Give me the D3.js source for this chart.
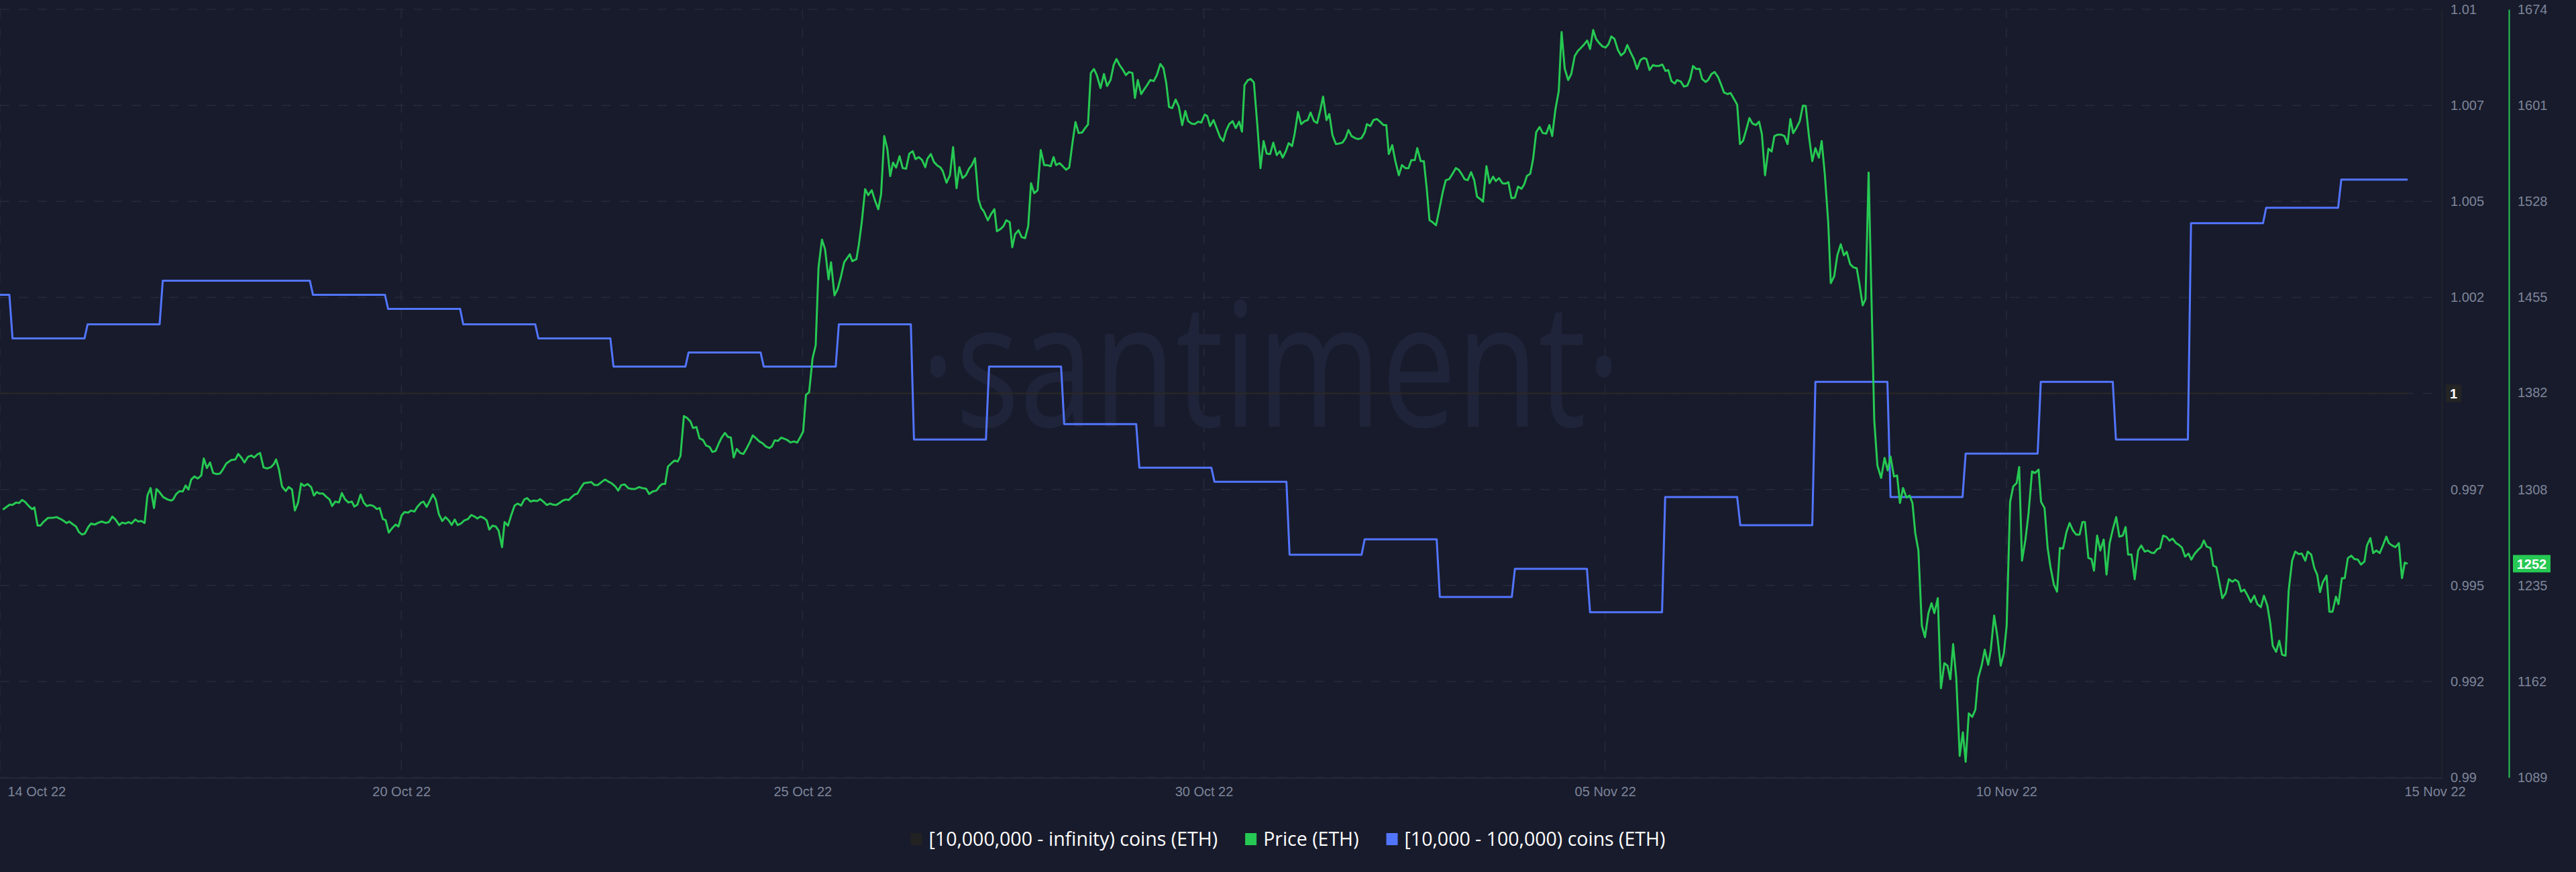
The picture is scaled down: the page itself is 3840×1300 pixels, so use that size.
<!DOCTYPE html>
<html><head><meta charset="utf-8">
<script src="https://cdn.jsdelivr.net/npm/d3@7"></script>
<style>html,body{margin:0;padding:0;background:#181b2b;}svg{display:block}</style>
</head><body><svg id="chart" width="3840" height="1300"></svg>
<script>
// ---------- DATA ----------
const seriesStart = "2022-10-14T21:00:00Z";
// Price (ETH) readings: [hours since seriesStart, USD]
const priceReadings = [
[0.9,1293.0],[3.1,1296.8],[3.9,1296.5],[5.2,1298.4],[6.1,1298.0],[7.0,1300.3],[7.9,1299.1],[9.2,1295.7],[10.2,1293.4],[11.0,1294.6],
[12.0,1280.8],[12.9,1280.8],[14.0,1283.9],[15.3,1286.6],[17.1,1286.9],[18.1,1287.3],[19.7,1285.4],[21.3,1282.8],[22.1,1283.9],[23.6,1281.2],
[24.3,1280.1],[25.2,1275.9],[26.2,1274.0],[27.1,1274.7],[28.2,1279.7],[29.1,1282.4],[30.2,1281.6],[31.5,1283.1],[32.5,1283.9],[33.8,1282.8],
[34.8,1283.5],[35.9,1287.7],[36.9,1285.4],[38.1,1281.2],[39.0,1283.1],[40.1,1282.4],[41.1,1283.5],[42.0,1282.4],[43.2,1285.4],[44.2,1283.9],
[45.2,1284.3],[46.2,1282.8],[47.1,1303.7],[48.1,1309.4],[49.2,1294.2],[50.0,1308.7],[50.9,1306.4],[52.1,1302.6],[53.5,1300.7],[54.7,1299.9],
[55.3,1300.7],[56.3,1304.9],[57.4,1307.1],[58.4,1306.8],[59.3,1311.3],[60.2,1308.3],[61.1,1315.9],[62.1,1318.2],[63.2,1316.7],[64.3,1319.0],
[65.1,1331.9],[66.1,1324.7],[67.1,1328.9],[68.1,1320.9],[69.1,1320.1],[70.3,1320.5],[71.0,1322.8],[72.3,1328.1],[73.9,1330.8],[75.2,1331.2],
[76.1,1335.4],[77.2,1332.3],[78.1,1328.9],[79.2,1333.1],[80.3,1334.2],[81.2,1332.7],[82.2,1335.0],[83.1,1336.1],[84.2,1325.1],[85.4,1324.3],
[86.6,1325.4],[87.5,1327.7],[88.2,1331.2],[89.1,1323.9],[90.1,1310.6],[91.3,1307.1],[92.2,1310.2],[93.3,1308.3],[94.2,1292.3],[95.2,1298.0],
[96.2,1312.9],[97.1,1311.0],[98.3,1312.5],[99.4,1310.2],[100.3,1303.7],[101.2,1306.4],[102.1,1305.2],[103.2,1305.2],[104.3,1302.6],[105.3,1300.7],
[106.1,1295.7],[107.1,1299.1],[108.3,1298.4],[109.2,1305.6],[110.2,1301.0],[111.3,1298.4],[112.4,1299.1],[113.2,1295.3],[114.2,1296.8],[115.2,1304.5],
[116.2,1298.4],[117.2,1295.7],[118.3,1296.5],[119.3,1295.7],[120.4,1293.4],[121.3,1294.2],[122.3,1285.8],[123.2,1285.0],[124.2,1275.5],[125.3,1278.9],
[126.4,1281.6],[127.3,1280.1],[128.3,1288.5],[129.2,1291.1],[130.4,1290.7],[131.3,1292.3],[132.4,1291.5],[133.3,1295.0],[134.4,1298.0],[135.3,1299.1],
[136.3,1295.0],[137.2,1299.1],
[138.3,1304.5],[139.2,1300.7],[140.2,1289.6],[141.3,1284.3],[142.3,1287.3],[143.4,1284.7],[144.3,1281.2],[145.3,1285.4],[146.2,1281.2],[147.3,1282.4],
[148.3,1284.7],[149.5,1285.8],[150.6,1288.9],[151.6,1287.7],[152.5,1286.2],[153.5,1287.7],[154.6,1286.6],[155.5,1284.7],[156.3,1277.8],[157.4,1280.8],
[158.4,1280.1],[159.3,1277.0],[160.4,1264.4],[161.2,1283.5],[162.3,1280.8],[163.3,1288.5],[164.4,1296.1],[165.4,1297.6],[166.5,1296.1],[167.5,1300.7],
[168.4,1301.8],[169.5,1299.1],[170.5,1299.9],[171.6,1299.5],[172.6,1301.0],[173.7,1298.8],[174.7,1296.5],[175.8,1297.6],[176.6,1296.8],[177.7,1296.5],
[178.7,1298.0],[179.8,1299.9],[180.8,1300.7],[181.7,1300.3],[182.8,1302.9],[183.6,1304.5],[184.5,1305.2],[185.6,1309.8],[186.6,1313.2],[187.8,1313.6],
[188.9,1314.0],[189.9,1311.7],[191.0,1311.7],[192.2,1314.0],[193.3,1315.9],[194.3,1314.4],[195.5,1312.9],[196.6,1310.6],[197.5,1307.5],[198.5,1311.7],
[199.6,1312.1],[200.7,1309.4],[201.8,1308.7],[202.9,1308.7],[204.2,1310.2],[205.2,1309.4],[206.4,1309.0],[207.4,1304.9],[208.5,1306.8],[209.7,1307.5],
[210.8,1311.0],[211.6,1312.5],[212.5,1312.5],[213.4,1325.8],[214.6,1328.5],[215.5,1330.4],[216.5,1329.6],[217.4,1333.8],[218.5,1364.3],[219.5,1362.8],
[220.6,1360.1],[221.4,1355.2],[222.5,1355.9],[223.5,1347.2],[224.6,1346.0],[225.6,1341.8],[226.7,1340.7],[227.6,1336.9],[228.6,1337.6],[229.7,1343.7],
[230.5,1347.6],[231.6,1351.4],[232.6,1348.3],[233.5,1347.9],[234.4,1332.7],[235.4,1339.2],[236.5,1336.1],[237.5,1335.4],[238.6,1339.9],[239.6,1344.5],
[240.5,1349.5],[241.6,1347.2],[242.6,1344.9],[243.7,1343.4],[244.7,1341.1],[245.8,1339.9],[246.6,1341.1],[247.5,1345.7],[248.6,1345.3],[249.6,1347.9],
[250.7,1346.8],[251.5,1346.0],[252.6,1344.1],[253.6,1344.9],[254.7,1344.1],[255.7,1348.3],[256.6,1352.5],[257.5,1380.4],[258.5,1382.3],[259.6,1408.2],
[260.6,1418.1],[261.5,1477.2],[262.6,1498.6],[263.6,1491.3],[264.7,1468.4],[265.5,1481.4],[266.6,1456.2],[267.6,1460.8],[268.7,1470.7],[269.7,1481.4],
[270.4,1483.7],[271.5,1487.5],[272.3,1482.2],[273.6,1483.7],[274.4,1495.1],[275.3,1511.5],[276.4,1537.1],[277.4,1532.5],[278.5,1536.3],[279.5,1528.7],
[280.6,1521.8],[281.5,1533.3],[282.5,1577.5],[283.5,1567.6],[284.4,1547.0],[285.3,1557.3],[286.3,1553.5],[287.4,1562.2],[288.4,1553.1],[289.5,1552.7],
[290.5,1564.1],[291.6,1566.0],[292.5,1559.9],[293.5,1561.5],[294.6,1559.2],[295.6,1553.8],[296.3,1560.3],[297.4,1563.8],[298.4,1557.7],[299.5,1555.0],
[300.5,1553.5],[301.2,1550.8],[302.4,1542.0],[303.5,1547.7],[304.5,1569.1],[305.6,1537.8],[306.5,1553.8],[307.5,1545.5],[308.6,1547.7],[309.6,1552.7],
[310.5,1555.4],[311.5,1560.7],[312.6,1529.4],[313.5,1522.6],[314.3,1520.3],[315.6,1513.4],[316.6,1518.0],[317.7,1521.8],[318.5,1505.0],[319.6,1506.6],
[320.6,1508.9],[321.5,1513.4],[322.6,1511.9],[323.4,1492.8],[324.3,1502.7],[325.4,1505.8],[326.4,1500.5],[327.5,1499.7],[328.5,1508.9],[329.4,1541.6],
[330.4,1534.0],[331.5,1536.3],[332.5,1566.8],[333.6,1555.4],[334.6,1555.4],[335.7,1554.6],[336.6,1561.5],[337.4,1555.4],[338.5,1556.9],[339.5,1554.6],
[340.6,1551.9],[341.6,1553.5],[342.7,1573.3],[343.6,1588.2],[344.6,1579.8],[345.7,1580.2],[346.7,1583.6],[347.6,1586.3],[348.5,1625.5],[349.5,1628.6],
[350.4,1624.0],[351.6,1614.1],[352.7,1624.8],[353.7,1615.6],[354.8,1620.2],[355.8,1631.6],[356.7,1636.2],[357.7,1631.6],[358.8,1627.8],[359.7,1624.0],
[360.7,1626.3],[361.8,1625.5],[362.6,1606.5],[363.5,1620.2],[364.6,1609.5],[365.6,1613.3],[366.5,1616.4],[367.5,1620.2],[368.6,1619.4],[369.6,1624.0],
[370.7,1632.4],[371.7,1629.3],[372.6,1617.9],[373.5,1599.6],[374.5,1598.8],[375.6,1605.3],[376.6,1600.0],[377.7,1585.9],[378.7,1596.6],[379.6,1588.9],
[380.7,1587.0],[381.7,1586.6],[382.8,1588.5],[383.8,1587.8],[384.9,1593.9],[385.7,1592.7],[386.6,1585.1],[387.7,1589.7],[388.7,1583.6],[389.8,1576.7],
[390.8,1573.7],[391.7,1581.3],[392.7,1586.6],[393.8,1588.9],[394.8,1583.6],[395.9,1588.5],[396.8,1580.9],[397.6,1616.4],[398.7,1620.2],[399.6,1621.0],
[400.6,1618.3],[401.7,1585.9],[402.7,1553.1],
[403.7,1573.7],[404.7,1564.1],[405.8,1563.8],[406.8,1572.5],[407.9,1563.0],[408.9,1566.0],[409.8,1561.1],[410.8,1566.0],[411.7,1572.1],[412.8,1569.9],
[413.6,1579.0],[414.7,1595.8],[415.7,1586.6],[416.8,1588.9],[417.8,1589.7],[418.7,1595.4],[419.8,1588.9],[420.8,1587.4],[421.9,1598.1],[422.7,1607.6],
[423.8,1589.7],[424.7,1594.3],[425.7,1578.2],[426.8,1571.4],[427.8,1571.8],[428.9,1572.5],[429.9,1576.0],[430.8,1582.1],[431.8,1577.5],[432.9,1576.0],
[433.9,1575.2],[435.0,1576.0],[436.0,1580.2],[436.7,1586.6],[437.8,1585.1],[438.8,1589.7],[439.9,1590.5],[440.9,1588.5],[442.0,1585.9],[442.9,1585.9],
[443.7,1563.8],[444.8,1570.6],[445.8,1558.4],[446.9,1547.7],[447.9,1555.4],[449.0,1553.1],[450.0,1553.1],[450.9,1559.2],[452.0,1559.2],[452.8,1568.3],
[453.9,1558.4],[454.9,1558.4],[455.8,1538.2],[456.7,1513.4],[457.7,1511.9],[458.8,1509.6],[459.8,1521.1],[460.9,1534.4],[461.9,1543.9],[463.0,1544.7],
[464.0,1548.5],[465.1,1553.1],[466.0,1551.9],[467.0,1548.5],[467.9,1544.7],[468.9,1543.9],[470.0,1550.0],[471.0,1543.9],[471.9,1531.3],[473.0,1529.4],
[473.8,1527.5],[474.9,1554.6],[475.9,1541.6],[477.0,1546.6],[477.9,1543.2],[478.9,1545.5],[480.0,1541.6],[481.0,1541.3],[481.9,1542.4],[482.9,1530.2],
[484.0,1530.6],[485.0,1539.0],[486.1,1537.4],[487.0,1540.9],[487.8,1547.0],[488.9,1548.9],[489.8,1559.9],[490.8,1580.5],[491.9,1584.4],[492.9,1579.8],
[494.0,1579.4],[495.0,1585.9],[495.9,1577.5],[496.9,1597.3],[498.0,1611.8],[498.9,1656.8],[499.9,1629.0],[501.0,1620.2],[502.0,1624.8],[503.1,1638.5],
[504.1,1642.3],[505.2,1645.0],[506.2,1647.6],[507.1,1650.3],[508.0,1643.8],[509.0,1658.3],[509.9,1651.5],[510.9,1648.4],[512.0,1645.7],[513.0,1645.0],
[513.9,1647.6],[514.8,1653.4],[515.8,1651.5],[516.9,1643.1],[517.9,1638.9],[519.0,1641.2],[519.9,1646.9],[520.9,1641.5],[522.0,1636.2],[523.0,1628.6],
[524.1,1635.4],[525.1,1637.0],[526.0,1636.2],[527.0,1627.8],[528.1,1631.6],[529.0,1630.9],[530.0,1630.9],[531.1,1632.0],[532.1,1627.1],[533.0,1627.8],
[534.0,1619.4],[535.1,1617.5],[535.8,1620.2],
[537.0,1619.0],[538.0,1615.2],[539.1,1616.0],[540.0,1621.3],[540.9,1630.9],[541.9,1628.6],[543.0,1628.6],[543.8,1621.0],[544.9,1618.7],[545.7,1620.2],
[546.8,1624.8],[547.8,1626.3],[548.9,1622.5],[549.8,1617.1],[550.8,1610.7],[551.9,1609.5],[552.9,1610.3],[554.0,1605.7],[555.0,1601.5],[555.9,1571.4],
[556.9,1574.0],[558.0,1583.2],[558.9,1591.2],[559.9,1587.0],[561.0,1585.9],[562.0,1588.5],[562.9,1579.0],[563.9,1547.7],[565.0,1567.9],[566.0,1565.7],
[566.9,1577.5],[568.0,1578.6],[569.0,1578.6],[570.1,1577.5],[571.1,1571.4],[572.0,1590.5],[572.9,1579.8],[573.9,1583.6],[575.0,1588.9],[576.0,1600.7],
[576.9,1600.4],[577.9,1578.2],[579.0,1558.4],[580.0,1568.3],[581.1,1561.1],[582.0,1573.7],[583.0,1548.5],[584.1,1511.5],[584.9,1465.4],[586.0,1470.7],
[587.0,1486.7],[588.1,1495.1],[589.1,1486.7],[590.0,1489.4],[591.1,1479.9],[592.1,1477.6],[593.2,1476.8],[594.0,1465.8],[595.1,1448.6],[596.0,1453.2],
[597.0,1549.7],[598.8,1360.9],[599.8,1326.6],[601.0,1317.1],[602.1,1332.3],[603.1,1322.8],[604.0,1333.4],[605.1,1318.2],[606.1,1319.0],[607.0,1298.0],
[608.0,1309.4],[609.1,1302.2],[610.1,1303.7],[611.0,1298.0],[611.9,1275.1],[612.9,1261.8],[614.0,1204.6],[615.0,1195.8],[616.1,1214.1],[617.1,1221.7],
[618.0,1214.1],[619.1,1225.5],[620.1,1156.9],[621.2,1176.0],[622.2,1174.1],[623.1,1163.8],[624.0,1190.5],[625.0,1164.5],[626.1,1105.4],[627.1,1123.4],
[628.0,1100.9],[629.0,1137.8],[630.1,1135.2],[631.1,1140.5],[632.0,1164.5],[633.1,1174.1],[634.1,1186.3],[635.2,1174.8],[636.0,1185.5],[637.1,1212.2],
[638.1,1196.9],[639.2,1174.1],[640.2,1183.6],[641.1,1204.6],[642.2,1298.8],[643.2,1310.6],[644.3,1313.3],[645.1,1325.4],[646.0,1254.1],[647.1,1270.1],
[648.1,1290.4],[649.2,1322.0],[650.2,1320.9],[651.3,1323.5],[652.1,1298.8],[653.2,1294.2],[654.2,1263.7],[655.1,1249.2],[656.2,1235.8],[657.2,1230.5],
[658.1,1263.7],[659.1,1263.3],[660.2,1275.9],[661.2,1282.8],[662.3,1277.0],[663.3,1274.0],[664.4,1274.0],[665.3,1283.5],[666.1,1283.5],[667.2,1256.1],
[668.2,1255.3],
[669.0,1246.5],[670.0,1273.2],[671.0,1261.8],[672.1,1270.2],[673.0,1243.5],[674.0,1267.5],[675.0,1277.8],[676.1,1287.3],[677.1,1272.4],[678.2,1273.2],
[679.1,1279.7],[679.9,1258.7],[681.0,1258.7],[682.0,1240.0],[683.1,1261.8],[684.1,1265.6],[685.2,1261.0],[686.2,1261.8],[687.3,1260.2],[688.2,1259.9],
[689.2,1262.9],[690.1,1263.7],[691.1,1273.2],[692.2,1272.1],[693.1,1269.4],[694.1,1270.9],[695.2,1267.5],[696.2,1266.0],[697.1,1264.1],[698.1,1257.2],
[699.2,1259.5],[700.1,1254.9],[701.1,1259.1],[702.2,1262.2],[703.2,1264.4],[704.1,1269.4],[705.0,1264.8],[706.2,1263.7],[707.1,1250.3],[708.1,1249.2],
[709.2,1235.8],[710.0,1225.5],[711.1,1229.4],[712.1,1240.0],[713.2,1238.1],[714.1,1239.6],[715.1,1238.1],[716.0,1230.5],[717.0,1232.0],[718.1,1227.4],
[719.1,1222.5],[720.2,1227.4],[721.2,1221.0],[722.3,1218.7],[723.3,1227.4],[724.4,1219.8],[725.3,1206.5],[726.1,1189.3],[727.2,1184.7],[728.2,1193.1],
[729.1,1182.5],[730.2,1181.7],[731.2,1231.3],[732.3,1254.1],[733.3,1261.0],[734.4,1259.1],[735.4,1259.5],[736.5,1254.1],[737.3,1261.0],[738.4,1258.7],
[739.4,1248.4],[740.3,1243.5],[741.2,1230.1],[742.1,1237.7],[743.3,1242.7],[744.2,1215.2],[745.2,1215.2],[746.3,1226.7],[747.1,1221.0],[748.2,1240.8],
[749.1,1240.8],[750.1,1256.0],[751.2,1257.9],[752.2,1255.3],[753.3,1254.9],[754.3,1251.1],[755.4,1253.4],[756.2,1265.6],[757.3,1271.3],[758.2,1259.9],
[759.2,1261.8],[760.3,1259.9],[761.3,1265.6],[762.4,1272.4],[763.2,1267.5],[764.3,1265.6],[765.3,1264.4],[766.4,1267.5],[767.4,1240.8],[768.3,1252.6],
[769.2,1251.8]
];

// [10,000 - 100,000) coins (ETH), daily balance in millions of ETH
const holderDays = ["2022-10-14","2022-10-15","2022-10-16","2022-10-17","2022-10-18","2022-10-19","2022-10-20","2022-10-21","2022-10-22","2022-10-23","2022-10-24",
  "2022-10-25","2022-10-26","2022-10-27","2022-10-28","2022-10-29","2022-10-30","2022-10-31","2022-11-01","2022-11-02","2022-11-03","2022-11-04",
  "2022-11-05","2022-11-06","2022-11-07","2022-11-08","2022-11-09","2022-11-10","2022-11-11","2022-11-12","2022-11-13","2022-11-14","2022-11-15"];
const holderValues = [21.177,21.143,21.154,21.188,21.188,21.177,21.166,21.154,21.143,21.121,21.132,
  21.121,21.154,21.064,21.121,21.076,21.042,21.031,20.974,20.986,20.941,20.963,
  20.929,21.019,20.997,21.109,21.019,21.053,21.109,21.064,21.233,21.245,21.267];
// [10,000,000 - infinity) coins (ETH), daily
const whaleValues = [1,1,1,1,1,1,1,1,1,1,1,1,1,1,1,1,1,1,1,1,1,1,1,1,1,1,1,1,1,1,1,1,1];

const leftTicks = [0.99,0.9925,0.995,0.9975,1,1.0025,1.005,1.0075,1.01];
const leftTickLabels = ["0.99","0.992","0.995","0.997","1","1.002","1.005","1.007","1.01"];
const rightTickLabels = ["1089","1162","1235","1308","1382","1455","1528","1601","1674"];
const xTickLabels = ["14 Oct 22","20 Oct 22","25 Oct 22","30 Oct 22","05 Nov 22","10 Nov 22","15 Nov 22"];
const legendLabels = ["[10,000,000 - infinity) coins (ETH)","Price (ETH)","[10,000 - 100,000) coins (ETH)"];
const legendColors = ["#222222","#26c953","#5275ff"];

// ---------- LAYOUT ----------
const W = 3840, H = 1300;
const plotTop = 14, plotBottom = 1159, plotRight = 3640, dataRight = 3589;
const BG = "#181b2b", GRID = "#262a3c", AXIS_TEXT = "#7d859b";
const FONT = "'Liberation Sans', Arial, sans-serif";

const svg = d3.select("#chart");
svg.append("rect").attr("width", W).attr("height", H).attr("fill", BG);

const HOUR = 3600e3;
const t0 = new Date(seriesStart);
const toDate = h => new Date(t0.getTime() + h * HOUR);
const price = priceReadings.map(([h, v]) => ({ t: toDate(h), v }));
const tEnd = price[price.length - 1].t;

const x = d3.scaleUtc().domain([t0, tEnd]).range([0, dataRight]);
const yLeft = d3.scaleLinear().domain([0.99, 1.01]).range([plotBottom, plotTop]);
const yPrice = d3.scaleLinear().domain([1089, 1674]).range([plotBottom, plotTop]);
const yHolder = d3.scaleLinear().domain([20.8, 21.4]).range([plotBottom, plotTop]);

// x tick times: 6 equal divisions of the visible span
const span = tEnd - t0;
const xTicks = xTickLabels.map((_, i) => new Date(t0.getTime() + span * i / 6));

// ---------- GRID ----------
const grid = svg.append("g");
grid.selectAll("line.h").data(leftTicks).join("line")
  .attr("x1", 0).attr("x2", 3626)
  .attr("y1", d => yLeft(d)).attr("y2", d => yLeft(d))
  .attr("stroke", GRID).attr("stroke-width", 1.5).attr("stroke-dasharray", "14,14");
grid.selectAll("line.v").data(xTicks.slice(0, 6)).join("line")
  .attr("x1", d => x(d)).attr("x2", d => x(d))
  .attr("y1", plotTop).attr("y2", plotBottom)
  .attr("stroke", GRID).attr("stroke-width", 1.5).attr("stroke-dasharray", "14,14");
// bottom border
svg.append("line").attr("x1", 0).attr("x2", plotRight).attr("y1", plotBottom + 1).attr("y2", plotBottom + 1)
  .attr("stroke", "#23273a").attr("stroke-width", 2);

// ---------- WATERMARK ----------
svg.append("text").text("·santiment·")
  .attr("x", 1372).attr("y", 636)
  .attr("textLength", 1045).attr("lengthAdjust", "spacingAndGlyphs")
  .attr("font-family", "'Open Sans', sans-serif").attr("font-size", 258)
  .attr("fill", "#20243a");

// ---------- SERIES ----------
const whale = holderDays.map((d, i) => ({ t: i === 0 ? t0 : new Date(d + "T00:00:00Z"), v: whaleValues[i] }));
whale.push({ t: tEnd, v: whaleValues[whaleValues.length - 1] });
svg.append("path").datum(whale)
  .attr("d", d3.line().x(d => x(d.t)).y(d => yLeft(d.v)))
  .attr("fill", "none").attr("stroke", "#2b2923").attr("stroke-width", 2);

// holder balance: daily value, updated one hour after midnight
const holderPts = [];
holderDays.forEach((d, i) => {
  const dayStart = new Date(d + "T00:00:00Z");
  const start = i === 0 ? t0 : new Date(dayStart.getTime() + HOUR);
  const end = i === holderDays.length - 1 ? tEnd : new Date(holderDays[i + 1] + "T00:00:00Z");
  holderPts.push({ t: start, v: holderValues[i] }, { t: end, v: holderValues[i] });
});
svg.append("path").datum(holderPts)
  .attr("d", d3.line().x(d => x(d.t)).y(d => yHolder(d.v)))
  .attr("fill", "none").attr("stroke", "#5275ff").attr("stroke-width", 3)
  .attr("stroke-linejoin", "round");

svg.append("path").datum(price)
  .attr("d", d3.line().x(d => x(d.t)).y(d => yPrice(d.v)))
  .attr("fill", "none").attr("stroke", "#26c953").attr("stroke-width", 3)
  .attr("stroke-linejoin", "round");

// ---------- AXES ----------
const leftAxis = svg.append("g").attr("transform", `translate(${plotRight},0)`)
  .call(d3.axisRight(yLeft).tickValues(leftTicks).tickFormat((d, i) => leftTickLabels[i])
    .tickSize(0).tickSizeOuter(0).tickPadding(13));
leftAxis.select(".domain").attr("stroke", "#25262b").attr("stroke-width", 1.5);
leftAxis.selectAll("text").attr("font-family", FONT).attr("font-size", 20).attr("fill", AXIS_TEXT);

const rightTicks = rightTickLabels.map(Number);
const rightAxis = svg.append("g").attr("transform", "translate(3740,0)")
  .call(d3.axisRight(yPrice).tickValues(rightTicks).tickFormat((d, i) => rightTickLabels[i])
    .tickSize(0).tickSizeOuter(0).tickPadding(13));
rightAxis.select(".domain").attr("stroke", "#26c953").attr("stroke-width", 2);
rightAxis.selectAll("text").attr("font-family", FONT).attr("font-size", 20).attr("fill", AXIS_TEXT);

const xAxis = svg.append("g").attr("transform", `translate(0,${plotBottom})`)
  .call(d3.axisBottom(x).tickValues(xTicks).tickFormat((d, i) => xTickLabels[i]).tickSize(0).tickPadding(14));
xAxis.select(".domain").remove();
xAxis.selectAll("text").attr("font-family", FONT).attr("font-size", 20).attr("fill", AXIS_TEXT)
  .attr("text-anchor", (d, i) => i === 0 || i === 6 ? "start" : "middle")
  .attr("dx", (d, i) => i === 0 ? 11 : (i === 6 ? -5 : 0));

// last-value badges
const lastWhale = whaleValues[whaleValues.length - 1];
const wy = yLeft(lastWhale);
svg.append("rect").attr("x", 3646).attr("y", wy - 13).attr("width", 23).attr("height", 26).attr("fill", "#242424");
svg.append("text").text(d3.format("d")(lastWhale)).attr("x", 3657.5).attr("y", wy).attr("dy", "0.36em")
  .attr("text-anchor", "middle").attr("font-family", FONT).attr("font-size", 20).attr("font-weight", "bold").attr("fill", "#ffffff");

const lastPrice = price[price.length - 1].v;
const py = yPrice(lastPrice);
svg.append("rect").attr("x", 3746).attr("y", py - 13).attr("width", 56).attr("height", 26).attr("fill", "#26c953");
svg.append("text").text(Math.round(lastPrice)).attr("x", 3774).attr("y", py).attr("dy", "0.36em")
  .attr("text-anchor", "middle").attr("font-family", FONT).attr("font-size", 20).attr("font-weight", "bold").attr("fill", "#ffffff");

// ---------- LEGEND ----------
const legend = svg.append("g");
const items = legendLabels.map((label, i) => {
  const g = legend.append("g");
  g.append("rect").attr("width", 17).attr("height", 18).attr("y", -9).attr("fill", legendColors[i]);
  const t = g.append("text").text(label).attr("x", 27).attr("dy", "0.35em")
    .attr("font-family", "'Open Sans', sans-serif").attr("font-size", 28.5).attr("fill", "#ffffff");
  return { g, w: 27 + t.node().getComputedTextLength() };
});
const gap = 41;
const total = d3.sum(items, d => d.w) + gap * (items.length - 1);
let cx = W / 2 - total / 2;
items.forEach(it => { it.g.attr("transform", `translate(${cx},1251)`); cx += it.w + gap; });
</script>
</body></html>
